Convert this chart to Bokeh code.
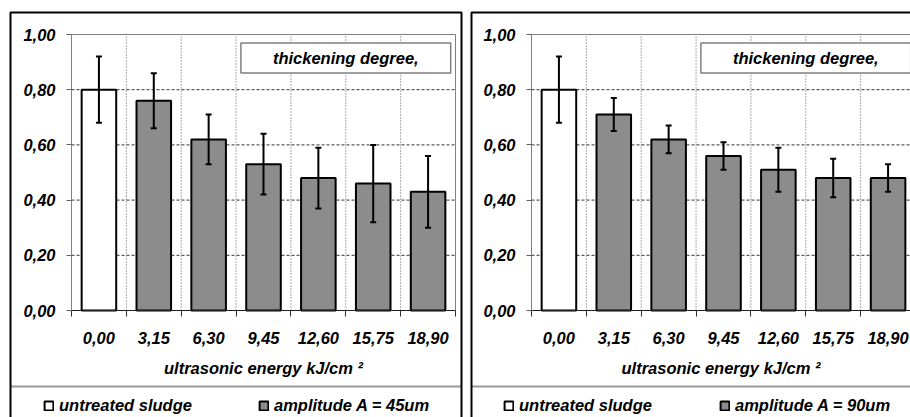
from bokeh.plotting import figure
from bokeh.models import (ColumnDataSource, Range1d, FixedTicker, BoxAnnotation, Label,
                          Legend, LegendItem, Whisker, TeeHead, CustomJSTickFormatter)
from bokeh.layouts import row
from bokeh.embed import file_html
from bokeh.resources import INLINE

# ---------------- data ----------------
energy_labels = ["0,00", "3,15", "6,30", "9,45", "12,60", "15,75", "18,90"]
y_tick_values = [0.0, 0.2, 0.4, 0.6, 0.8, 1.0]
y_tick_labels = ["0,00", "0,20", "0,40", "0,60", "0,80", "1,00"]

untreated_label = "untreated sludge"
box_title = "thickening degree,"
x_title = "ultrasonic energy kJ/cm \u00b2"

# first value of each series = untreated sludge (0,00 kJ/cm2)
amp45_label = "amplitude A = 45um"
means_45 = [0.80, 0.76, 0.62, 0.53, 0.48, 0.46, 0.43]
upper_45 = [0.92, 0.86, 0.71, 0.64, 0.59, 0.60, 0.56]
lower_45 = [0.68, 0.66, 0.53, 0.42, 0.37, 0.32, 0.30]

amp90_label = "amplitude A = 90um"
means_90 = [0.80, 0.71, 0.62, 0.56, 0.51, 0.48, 0.48]
upper_90 = [0.92, 0.77, 0.67, 0.61, 0.59, 0.55, 0.53]
lower_90 = [0.68, 0.65, 0.57, 0.51, 0.43, 0.41, 0.43]

# ---------------- style / layout ----------------
FONT = "Liberation Sans"
FS = "16.5px"
GRAY_FILL = "#8c8c8c"
H = 417
PX_PER_CAT = 384 / 7.0      # horizontal pixels per category
PX_PER_UNIT = 276.0         # vertical pixels per 1.0 of y
AXIS_Y_PX = 310             # pixel row of y = 0


def canvas_box(**kw):
    return BoxAnnotation(left_units="canvas", right_units="canvas",
                         top_units="canvas", bottom_units="canvas", **kw)


def make_panel(means, lower, upper, amp_label, W, axis_x_px, border_left, border_right,
               leg_x):
    n = len(energy_labels)
    centers = [i + 0.5 for i in range(n)]
    x0 = -axis_x_px / PX_PER_CAT
    x1 = (W - axis_x_px) / PX_PER_CAT
    y1 = AXIS_Y_PX / PX_PER_UNIT
    y0 = -(H - AXIS_Y_PX) / PX_PER_UNIT
    p = figure(width=W, height=H, x_range=Range1d(x0, x1), y_range=Range1d(y0, y1),
               output_backend="svg", toolbar_location=None, min_border=0,
               background_fill_color="white", border_fill_color="white",
               outline_line_color=None)

    # plot-area outline (gray)
    p.add_layout(BoxAnnotation(left=0, right=n, bottom=0, top=1, fill_alpha=0,
                               line_color="#808080", line_alpha=1, line_width=1,
                               level="underlay"))

    # grid lines
    vb = list(range(1, n))
    p.segment(x0=vb, x1=vb, y0=[0] * len(vb), y1=[1] * len(vb),
              line_color="#555555", line_width=1, line_dash="1 2")
    hg = y_tick_values[1:-1]
    p.segment(x0=[0] * len(hg), x1=[n] * len(hg), y0=hg, y1=hg,
              line_color="#333333", line_width=1, line_dash="3 2")

    src_u = ColumnDataSource(dict(x=centers[:1], top=means[:1]))
    src_a = ColumnDataSource(dict(x=centers[1:], top=means[1:]))
    r_u = p.vbar(x="x", top="top", width=0.63, source=src_u,
                 fill_color="white", line_color="black", line_width=2)
    r_a = p.vbar(x="x", top="top", width=0.63, source=src_a,
                 fill_color=GRAY_FILL, line_color="black", line_width=2)

    src_e = ColumnDataSource(dict(x=centers, lower=lower, upper=upper))
    p.add_layout(Whisker(source=src_e, base="x", lower="lower", upper="upper",
                         line_color="black", line_width=2, level="annotation",
                         upper_head=TeeHead(size=6, line_width=2, line_color="black"),
                         lower_head=TeeHead(size=6, line_width=2, line_color="black")))

    # x axis: ticks at category boundaries, labels centred
    xa = p.xaxis[0]
    xa.fixed_location = 0
    xa.bounds = (0, n)
    xa.ticker = FixedTicker(ticks=centers, minor_ticks=list(range(n + 1)))
    xa.formatter = CustomJSTickFormatter(
        args=dict(values=centers, labels=energy_labels),
        code="const i = values.findIndex(v => Math.abs(v - tick) < 1e-6); return i >= 0 ? labels[i] : '';")
    xa.major_tick_out = 0
    xa.major_tick_in = 0
    xa.minor_tick_out = 6
    xa.minor_tick_in = 0
    xa.minor_tick_line_color = "#303030"
    xa.axis_line_color = "#202020"
    xa.major_label_standoff = 15
    xa.major_label_text_font = FONT
    xa.major_label_text_font_size = FS
    xa.major_label_text_font_style = "bold italic"
    xa.major_label_text_color = "black"
    xa.axis_label = x_title
    xa.axis_label_standoff = 12
    xa.axis_label_text_font = FONT
    xa.axis_label_text_font_size = FS
    xa.axis_label_text_font_style = "bold italic"
    xa.axis_label_text_color = "black"

    ya = p.yaxis[0]
    ya.fixed_location = 0
    ya.bounds = (0, 1)
    ya.ticker = FixedTicker(ticks=y_tick_values, minor_ticks=[])
    ya.formatter = CustomJSTickFormatter(
        args=dict(values=y_tick_values, labels=y_tick_labels),
        code="const i = values.findIndex(v => Math.abs(v - tick) < 1e-6); return i >= 0 ? labels[i] : '';")
    ya.major_tick_out = 5
    ya.major_tick_in = 0
    ya.major_tick_line_color = "#606060"
    ya.axis_line_color = "#808080"
    ya.major_label_standoff = 11
    ya.major_label_text_font = FONT
    ya.major_label_text_font_size = FS
    ya.major_label_text_font_style = "bold italic"
    ya.major_label_text_color = "black"

    p.xgrid.visible = False
    p.ygrid.visible = False

    p.add_layout(Label(x=5.0, y=0.915, text=box_title, text_align="center",
                       text_baseline="middle", text_font=FONT, text_font_size=FS,
                       text_font_style="bold italic", text_color="black",
                       border_line_color="#808080", border_line_width=1.5,
                       background_fill_color="white",
                       padding=dict(left=32, right=32, top=6, bottom=6)))

    for item, lx in ((LegendItem(label=untreated_label, renderers=[r_u]), leg_x[0]),
                     (LegendItem(label=amp_label, renderers=[r_a]), leg_x[1])):
        leg = Legend(items=[item], location=(lx, 2), orientation="horizontal",
                     glyph_width=11, glyph_height=11, label_standoff=5,
                     label_height=18, padding=0, margin=0,
                     border_line_color=None, background_fill_alpha=0,
                     label_text_font=FONT, label_text_font_size=FS,
                     label_text_font_style="bold italic", label_text_color="black")
        p.add_layout(leg)

    # panel separator and border
    p.add_layout(canvas_box(left=border_left, right=border_right, top=385, bottom=387,
                            fill_color="#9a9a9a", fill_alpha=1, line_alpha=0))
    p.add_layout(canvas_box(left=border_left, right=border_right,
                            top=12, bottom=H + 40, fill_alpha=0, line_color="black",
                            line_alpha=1, line_width=2))
    return p


p1 = make_panel(means_45, lower_45, upper_45, amp45_label, 466, 71, 10, 461, (43, 258))
p2 = make_panel(means_90, lower_90, upper_90, amp90_label, 444, 65, 5, 480, (37, 253))

layout = row(p1, p2, spacing=0)
open("out.html", "w").write(file_html(layout, INLINE))
